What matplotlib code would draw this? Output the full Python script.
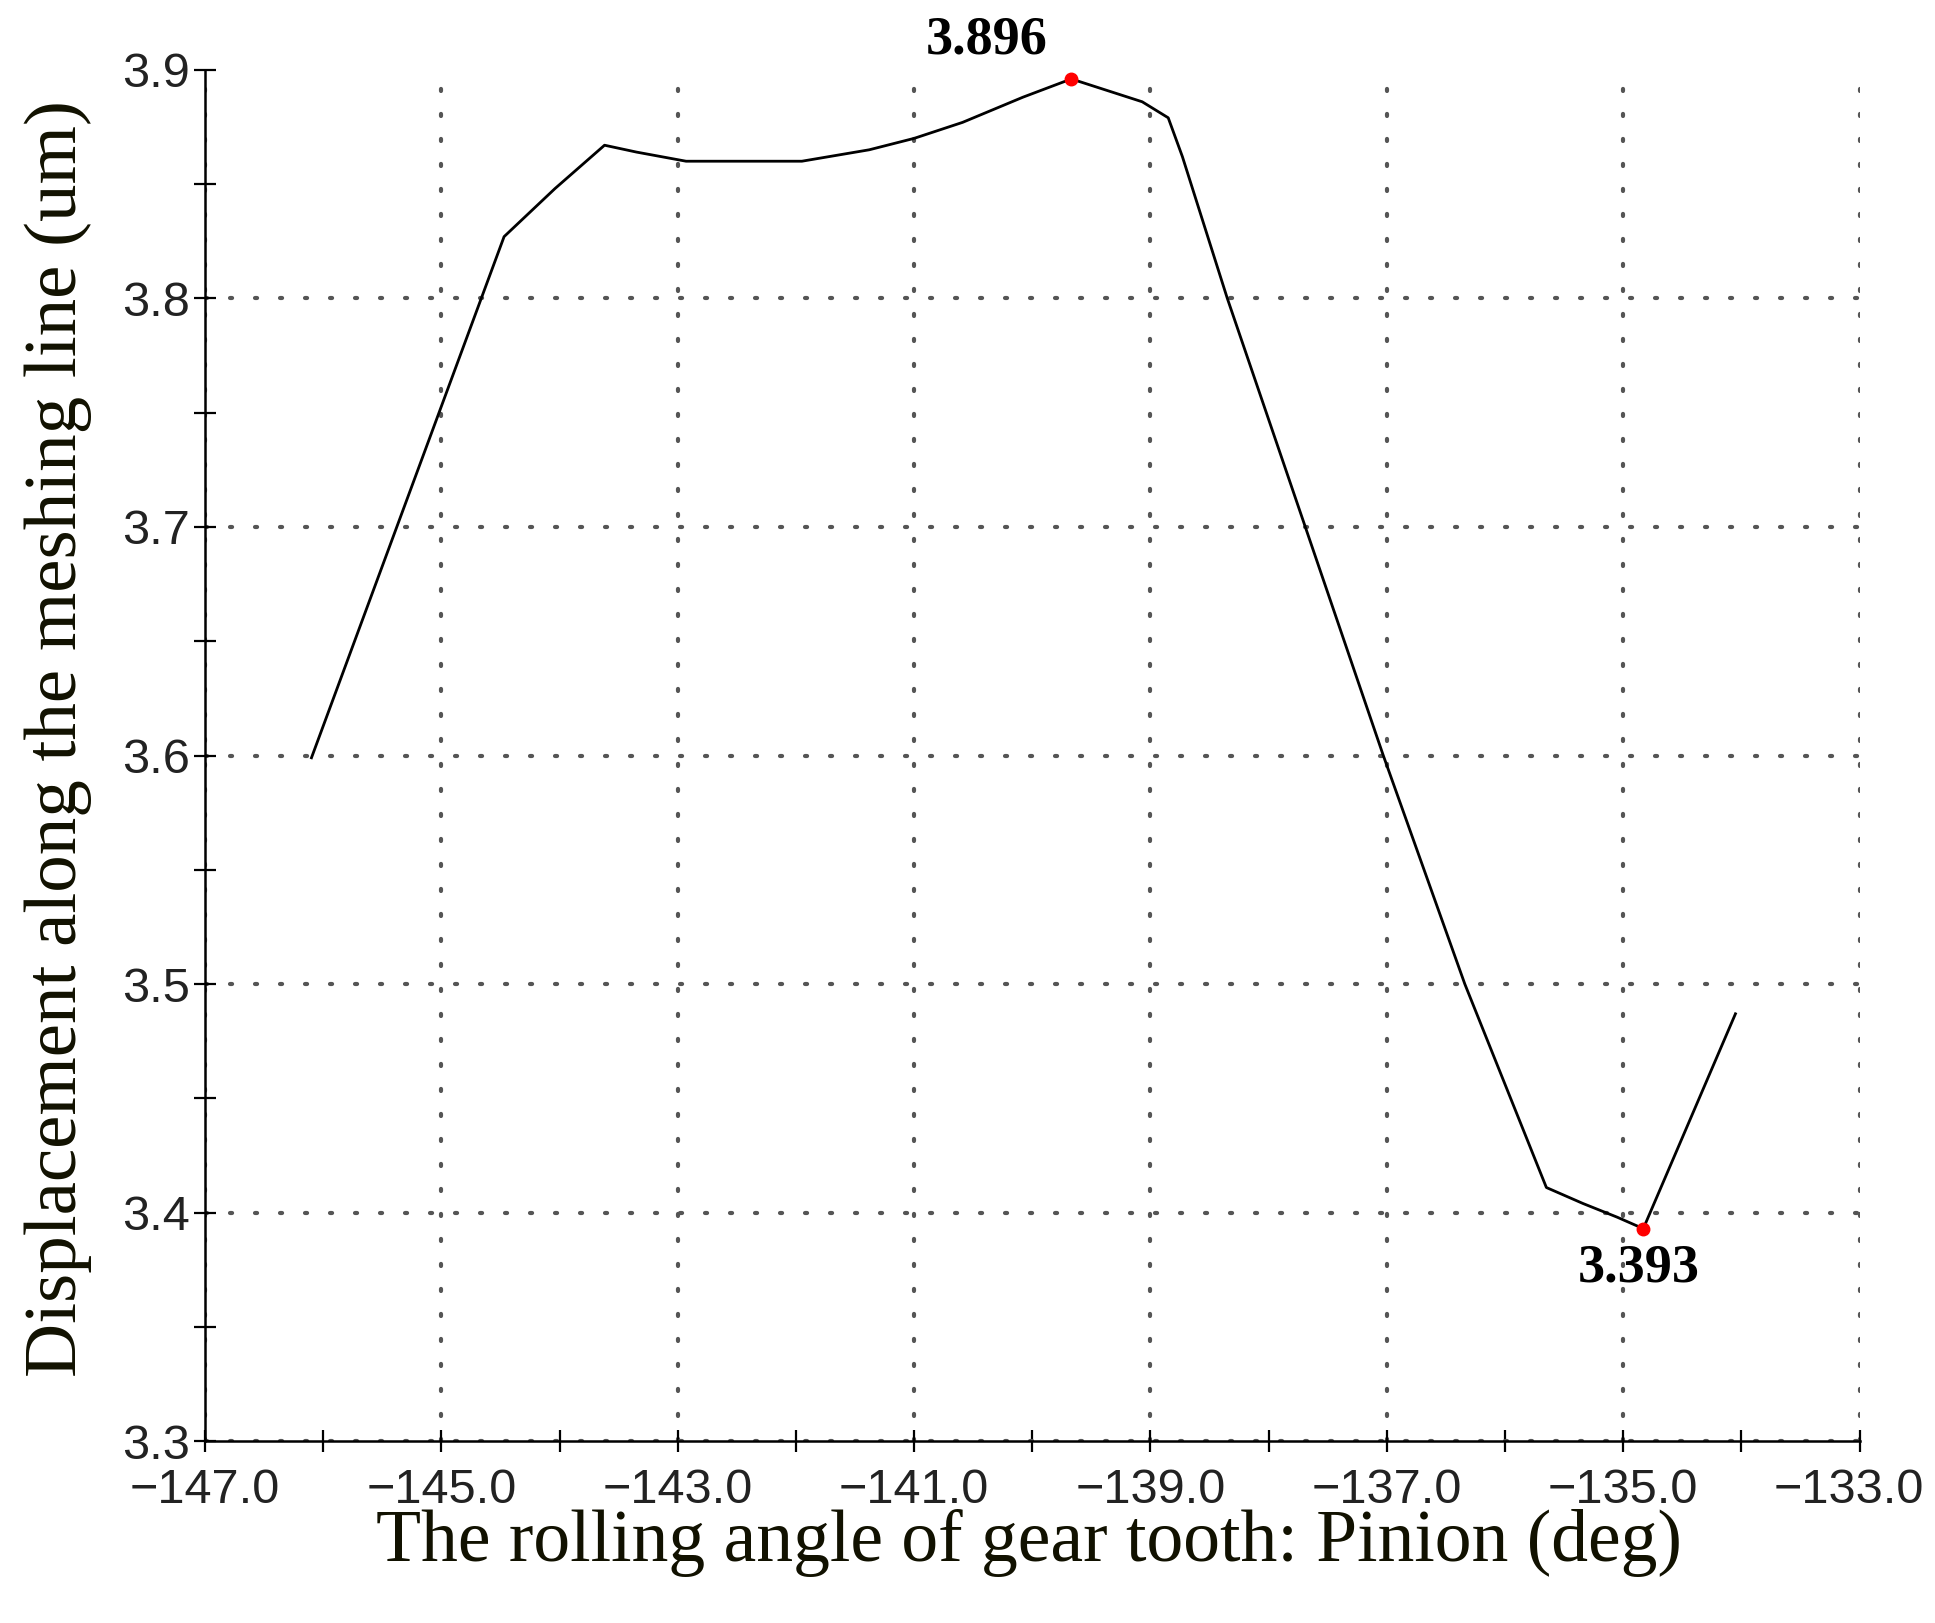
import numpy as np
import matplotlib
matplotlib.use('Agg')
import matplotlib.pyplot as plt
import matplotlib.transforms as mtransforms
from matplotlib.ticker import MultipleLocator, FuncFormatter

# rolling angle of pinion (deg) and displacement along meshing line (um)
angle = [-146.10, -144.47, -144.04, -143.62, -143.35, -142.93, -141.95, -141.38,
         -141.00, -140.59, -140.08, -139.67, -139.07, -138.85, -138.73, -138.35,
         -137.69, -137.03, -136.34, -135.65, -135.34, -135.05, -134.83, -134.05]
disp = [3.599, 3.827, 3.848, 3.867, 3.864, 3.860, 3.860, 3.865,
        3.870, 3.877, 3.888, 3.896, 3.886, 3.879, 3.862, 3.800,
        3.700, 3.600, 3.500, 3.411, 3.404, 3.398, 3.393, 3.487]

xlabel = 'The rolling angle of gear tooth: Pinion (deg)'
ylabel = 'Displacement along the meshing line (um)'

tick_font = ['Liberation Sans Narrow', 'Liberation Sans', 'DejaVu Sans']
label_font = ['Liberation Serif', 'DejaVu Serif']


def fmt(v, pos):
    return ('%.1f' % v).replace('-', '\u2212')


fig = plt.figure(figsize=(19.35, 16.23), dpi=100)
ax = fig.add_axes([0.106, 0.112, 0.855, 0.845])

ax.plot(angle, disp, color='black', lw=2.0, zorder=3)

# max and min markers
i_max = int(np.argmax(disp))
i_min = int(np.argmin(disp))
ax.plot([angle[i_max], angle[i_min]], [disp[i_max], disp[i_min]], 'o',
        color='red', ms=9, zorder=4)
ax.annotate('%.3f' % disp[i_max], (angle[i_max], disp[i_max]),
            xytext=(-85, 38), textcoords='offset pixels', ha='center', va='center',
            fontsize=39, fontweight='bold', family=label_font)
ax.annotate('%.3f' % disp[i_min], (angle[i_min], disp[i_min]),
            xytext=(-5, -40), textcoords='offset pixels', ha='center', va='center',
            fontsize=39, fontweight='bold', family=label_font)

ax.set_xlim(-147, -133)
ax.set_ylim(3.3, 3.9)
ax.xaxis.set_major_locator(MultipleLocator(2, offset=1))
ax.xaxis.set_minor_locator(MultipleLocator(1))
ax.yaxis.set_major_locator(MultipleLocator(0.1))
ax.yaxis.set_minor_locator(MultipleLocator(0.05))
ax.xaxis.set_major_formatter(FuncFormatter(fmt))
ax.yaxis.set_major_formatter(FuncFormatter(fmt))

ax.tick_params(which='both', direction='inout', length=16, width=1.6, colors='black')
ax.tick_params(axis='x', which='major', pad=11)
ax.tick_params(axis='y', which='major', pad=3)
for lab in ax.get_xticklabels() + ax.get_yticklabels():
    lab.set_fontfamily(tick_font)
    lab.set_fontsize(35)
    lab.set_color('#222222')

for s in ['top', 'right']:
    ax.spines[s].set_visible(False)
for s in ['left', 'bottom']:
    ax.spines[s].set_linewidth(1.8)

ax.grid(True, which='major', color='#555555', lw=3, linestyle=(0, (0.5, 5.5)),
        dash_capstyle='round')
fig.canvas.draw()
for loc, line in zip(ax.yaxis.get_majorticklocs(), ax.yaxis.get_gridlines()):
    if abs(loc - 3.9) < 1e-6:
        line.set_visible(False)

# last x tick label sits a bit left so it stays inside the figure
shift = mtransforms.ScaledTranslation(-8 / 72, 0, fig.dpi_scale_trans)
for loc, tick in zip(ax.xaxis.get_majorticklocs(), ax.xaxis.get_major_ticks()):
    if abs(loc + 133) < 1e-6:
        tick.label1.set_transform(tick.label1.get_transform() + shift)

fig.text(0.532, 0.049, xlabel, ha='center', va='center', fontsize=53,
         family=label_font, color='#111100')
fig.text(0.030, 0.545, ylabel, ha='center', va='center', fontsize=54,
         rotation=90, family=label_font, color='#111100')

fig.savefig('out.png', dpi=100)
